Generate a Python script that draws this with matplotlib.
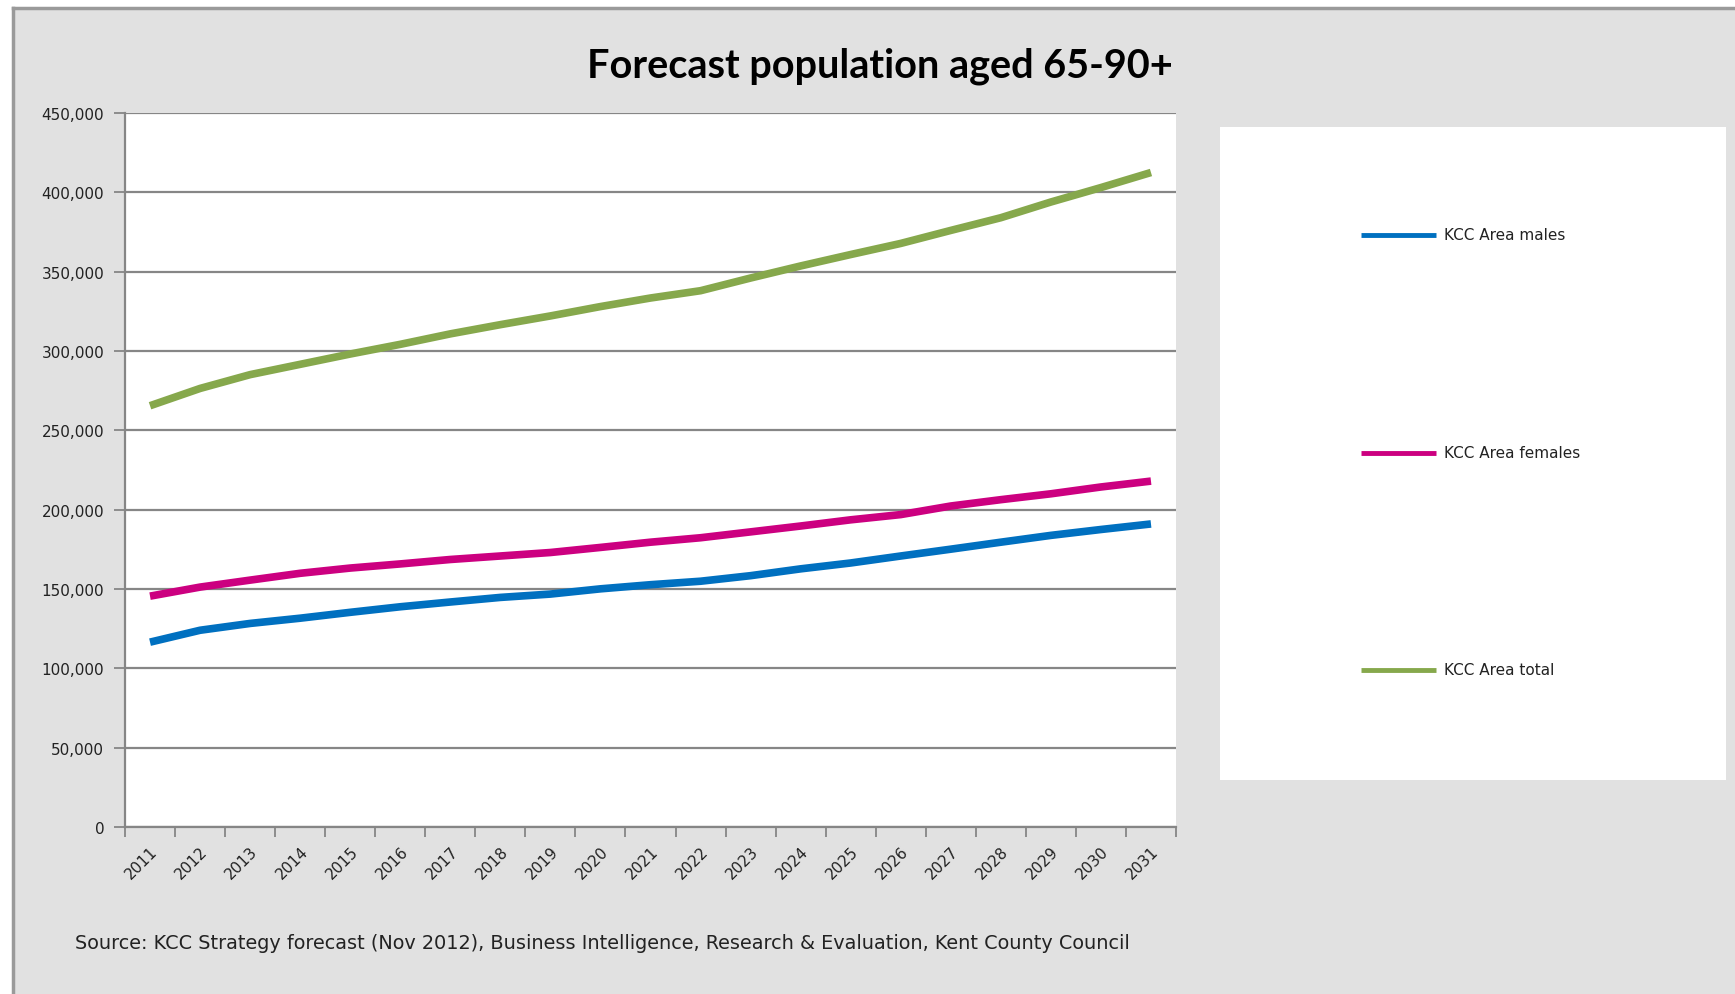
import matplotlib
matplotlib.use("Agg")
import matplotlib.pyplot as plt
from matplotlib.patches import Rectangle
from matplotlib.lines import Line2D
from matplotlib.ticker import FuncFormatter, FixedLocator

years = [str(y) for y in range(2011, 2032)]
males = [116.5, 124, 128.3, 131.6, 135.3, 138.8, 141.8, 144.7, 146.8, 150.1, 152.7,
         154.9, 158.4, 162.7, 166.4, 170.8, 175.1, 179.5, 183.8, 187.5, 191]
females = [145.5, 151.2, 155.6, 159.9, 163.2, 165.8, 168.6, 170.8, 173, 176.2, 179.5,
           182.3, 186, 189.7, 193.6, 196.9, 202.3, 206.3, 210, 214.3, 218]
total = [265.5, 276.4, 285.1, 291.6, 298.1, 304.2, 310.8, 316.6, 322.1, 328, 333.4,
         338, 346, 353.6, 360.8, 367.8, 376, 384, 393.9, 403, 412.5]
series_names = ["KCC Area males", "KCC Area females", "KCC Area total"]
series_colors = ["#0070C0", "#CC0080", "#86A84C"]
yticks = list(range(0, 450001, 50000))

W, H = 1735, 995
fig = plt.figure(figsize=(W / 100, H / 100), dpi=100, facecolor="white")

def fx(px):
    return px / W

def fy(py):
    return 1 - py / H

# background panel
bg = Rectangle((fx(13), 0), 1 - fx(13), fy(9), transform=fig.transFigure,
               facecolor="#E1E1E1", edgecolor="none", zorder=-10)
fig.patches.append(bg)
fig.add_artist(Line2D([fx(13), fx(13)], [0, fy(9)], color="#9A9A9A", lw=2.5,
                      transform=fig.transFigure, zorder=-5))
fig.add_artist(Line2D([fx(13), 1], [fy(9), fy(9)], color="#9A9A9A", lw=2.5,
                      transform=fig.transFigure, zorder=-5))

left, right, top, bottom = 125, 1176, 114, 828
ax = fig.add_axes([fx(left), fy(bottom), fx(right) - fx(left), fy(top) - fy(bottom)])
ax.set_facecolor("white")
ax.set_zorder(1)

x = list(range(len(years)))
for vals, name, col in zip([males, females, total], series_names, series_colors):
    ax.plot(x, [v * 1000 for v in vals], color=col, lw=5.5, label=name,
            solid_capstyle="butt", zorder=3)

ax.set_xlim(-0.5, len(years) - 0.5)
ax.set_ylim(0, 450000)
ax.set_yticks(yticks)
ax.yaxis.set_major_formatter(FuncFormatter(lambda v, p: f"{int(v):,}"))
ax.yaxis.grid(True, color="#868686", lw=1.6, zorder=1)
ax.set_axisbelow(True)

ax.set_xticks(x)
ax.set_xticklabels(years, rotation=45, ha="right", va="top", rotation_mode="anchor",
                   fontsize=11, color="#222222")
ax.xaxis.set_minor_locator(FixedLocator([i - 0.5 for i in range(len(years) + 1)]))
ax.tick_params(axis="x", which="major", length=0, pad=12)
ax.tick_params(axis="x", which="minor", length=7, width=1.3, color="#868686", direction="out")
ax.tick_params(axis="y", length=8, width=1.3, color="#868686", direction="out",
               labelsize=11, labelcolor="#222222", pad=7)

for s in ["top", "right"]:
    ax.spines[s].set_visible(False)
for s in ["left", "bottom"]:
    ax.spines[s].set_color("#868686")
    ax.spines[s].set_linewidth(1.6)

# title
fig.text(fx(880), fy(66), "Forecast population aged 65-90+", ha="center", va="center",
         fontsize=28.5, fontweight="bold", color="black", family="Lato")

# legend box
lb = Rectangle((fx(1220), fy(781)), fx(1726) - fx(1220), fy(128) - fy(781),
               transform=fig.transFigure, facecolor="white", edgecolor="none", zorder=1)
fig.patches.append(lb)
for name, col, ly in zip(series_names, series_colors, [236, 454, 671]):
    fig.add_artist(Line2D([fx(1361), fx(1436)], [fy(ly), fy(ly)], color=col, lw=3.5,
                          transform=fig.transFigure, solid_capstyle="butt", zorder=2))
    fig.text(fx(1444), fy(ly), name, ha="left", va="center", fontsize=11,
             color="#222222", zorder=2)

# source
fig.text(fx(75), fy(944), "Source: KCC Strategy forecast (Nov 2012), Business Intelligence, "
         "Research & Evaluation, Kent County Council", ha="left", va="center",
         fontsize=13.9, color="#222222")

fig.savefig("out.png", dpi=100, facecolor=fig.get_facecolor())
